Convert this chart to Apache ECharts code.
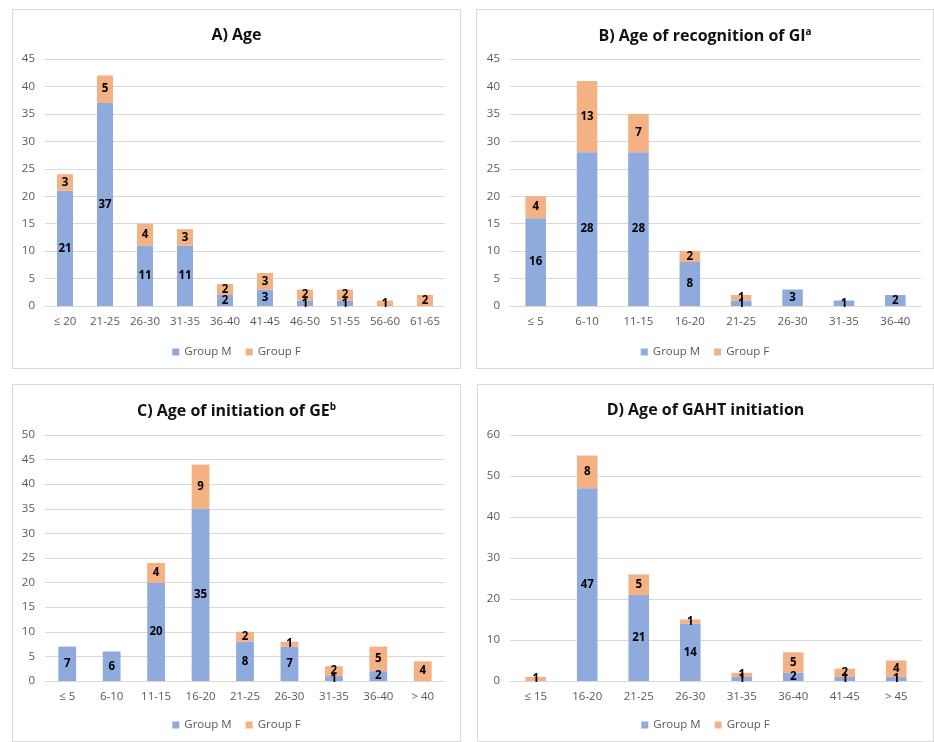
<!DOCTYPE html>
<html><head><meta charset="utf-8">
<script src="https://cdn.jsdelivr.net/npm/echarts@6/dist/echarts.min.js"></script>
<style>
body{margin:0;background:#fff;width:934px;height:742px;position:relative;overflow:hidden;}
.p{position:absolute;border:1px solid #d9d9d9;box-sizing:border-box;background:#fff;}
</style></head><body>
<div id="a" class="p" style="left:12px;top:9px;width:449px;height:360px"></div>
<div id="b" class="p" style="left:476px;top:9px;width:458px;height:360px"></div>
<div id="c" class="p" style="left:12px;top:384px;width:449px;height:358px"></div>
<div id="d" class="p" style="left:477px;top:384px;width:457px;height:358px"></div>
<script>
// A) Age
const catsA = ['≤ 20','21-25','26-30','31-35','36-40','41-45','46-50','51-55','56-60','61-65'];
const mA = [21,37,11,11,2,3,1,1,0,0];
const fA = [3,5,4,3,2,3,2,2,1,2];
// B) Age of recognition of GI
const catsB = ['≤ 5','6-10','11-15','16-20','21-25','26-30','31-35','36-40'];
const mB = [16,28,28,8,1,3,1,2];
const fB = [4,13,7,2,1,0,0,0];
// C) Age of initiation of GE
const catsC = ['≤ 5','6-10','11-15','16-20','21-25','26-30','31-35','36-40','> 40'];
const mC = [7,6,20,35,8,7,1,2,0];
const fC = [0,0,4,9,2,1,2,5,4];
// D) Age of GAHT initiation
const catsD = ['≤ 15','16-20','21-25','26-30','31-35','36-40','41-45','> 45'];
const mD = [0,47,21,14,1,2,1,1];
const fD = [1,8,5,1,1,5,2,4];

const FONT = '"Open Sans", "Noto Sans", sans-serif';
const BLUE = '#8faadc', ORANGE = '#f4b183';

function build(el, title, sup, cats, m, f, max, interval, grid) {
  const chart = echarts.init(document.getElementById(el), null, {renderer:'canvas'});
  const lbl = {show:true, position:'inside', color:'#000', fontWeight:'bold', fontSize:11.5, fontFamily:FONT,
    formatter: p => p.value === 0 ? '' : p.value};
  chart.setOption({
    animation:false,
    textStyle:{fontFamily:FONT},
    title:{text: sup ? title + '{s|' + sup + '}' : title, left:'center', top:12,
      textStyle:{fontFamily:FONT, fontSize:16, fontWeight:'bold', color:'#111',
        rich:{s:{fontFamily:FONT, fontSize:10, fontWeight:'bold', color:'#111', verticalAlign:'top', padding:[0,0,8,0]}}}},
    legend:{data:['Group M','Group F'], bottom:5, left:'center', itemWidth:7, itemHeight:7, itemGap:14,
      icon:'rect', textStyle:{color:'#595959', fontSize:11.5, fontFamily:FONT}},
    grid:grid,
    xAxis:{type:'category', data:cats,
      axisLine:{lineStyle:{color:'#d9d9d9'}}, axisTick:{show:false},
      axisLabel:{color:'#595959', fontSize:11.5, fontFamily:FONT, margin:10, interval:0}},
    yAxis:{type:'value', min:0, max:max, interval:interval,
      axisLine:{show:false}, axisTick:{show:false},
      axisLabel:{color:'#595959', fontSize:11.5, fontFamily:FONT, margin:10},
      splitLine:{lineStyle:{color:'#d9d9d9'}}},
    series:[
      {name:'Group M', type:'bar', stack:'s', data:m, barWidth:'40%', itemStyle:{color:BLUE}, label:lbl},
      {name:'Group F', type:'bar', stack:'s', data:f, barWidth:'40%', itemStyle:{color:ORANGE}, label:lbl}
    ]
  });
}
build('a','A) Age','',catsA,mA,fA,45,5,{left:32,right:15,top:49,bottom:62});
build('b','B) Age of recognition of GI','a',catsB,mB,fB,45,5,{left:33,right:12,top:49,bottom:62});
build('c','C) Age of initiation of GE','b',catsC,mC,fC,50,5,{left:32,right:15,top:50,bottom:60});
build('d','D) Age of GAHT initiation','',catsD,mD,fD,60,10,{left:32,right:11,top:50,bottom:60});
</script>
</body></html>
